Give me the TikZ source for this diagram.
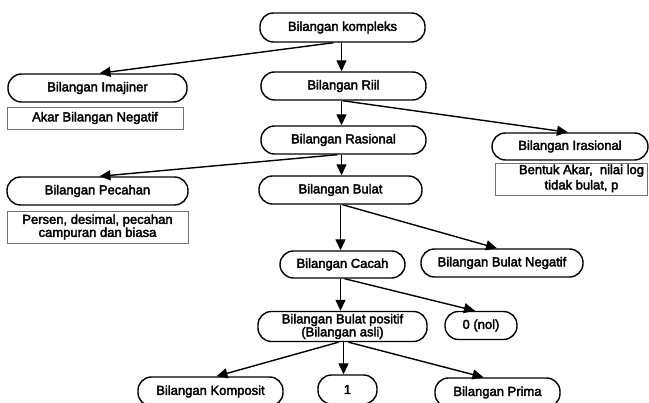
\documentclass[tikz,border=0pt]{standalone}
\usepackage{fontspec}
\setmainfont{Liberation Sans}
\usetikzlibrary{arrows.meta}
\newcommand\heavytext{\special{pdf:literal direct 2 Tr 0.35 w}}
\begin{document}
\begin{tikzpicture}[x=1pt,y=-1pt,
  rbox/.style={draw, line width=1.4pt, rounded corners=13.5pt, minimum height=28pt, inner sep=0pt, align=center, font=\fontsize{13}{13}\selectfont\heavytext},
  notebox/.style={draw=black!55, line width=0.9pt, inner sep=0pt, align=center, font=\fontsize{13}{13}\selectfont\heavytext},
  arr/.style={line width=1.4pt, -{Triangle[length=11pt,width=10pt]}}
]
\useasboundingbox (0,0) rectangle (649,403);
\clip (0,0) rectangle (649,403);

\node[rbox, minimum width=165pt, minimum height=29pt] (komp) at (342.5,27.5) {Bilangan kompleks};
\node[rbox, minimum width=165pt] (riil) at (343.5,86) {Bilangan Riil};
\node[rbox, minimum width=179pt] (imaj) at (97.5,88) {Bilangan Imajiner};
\node[notebox, minimum width=176pt, minimum height=22pt] (akar) at (95,118) {Akar Bilangan Negatif};
\node[rbox, minimum width=156pt, minimum height=27pt] (iras) at (570,146.5) {Bilangan Irasional};
\node[rbox, minimum width=165pt] (rasi) at (343.5,140) {Bilangan Rasional};
\node[notebox, minimum width=152pt, minimum height=32pt] (bentuk) at (571,179) {\hspace*{21pt}\begin{tabular}{@{}c@{}}Bentuk Akar,~ nilai log\\[2pt]tidak bulat, p\end{tabular}};
\node[rbox, minimum width=181pt] (pecah) at (97.5,191) {Bilangan Pecahan};
\node[notebox, minimum width=181pt, minimum height=32pt] (persen) at (97.5,227) {Persen, desimal, pecahan\\campuran dan biasa};
\node[rbox, minimum width=163pt] (bulat) at (340.5,190) {Bilangan Bulat};
\node[rbox, minimum width=125pt, minimum height=27pt] (cacah) at (342.5,264.5) {Bilangan Cacah};
\node[rbox, minimum width=162pt] (bneg) at (502,263) {Bilangan Bulat Negatif};
\node[rbox, minimum width=169pt, minimum height=30pt] (posit) at (342.5,326.5) {Bilangan Bulat positif\\(Bilangan asli)};
\node[rbox, minimum width=72pt] (nol) at (481,325.5) {0 (nol)};
\node[rbox, minimum width=145pt, minimum height=29pt] (kompo) at (210.5,391.5) {Bilangan Komposit};
\node[rbox, minimum width=59pt, minimum height=29pt] (one) at (347.5,389.5) {1};
\node[rbox, minimum width=125pt, minimum height=29pt] (prima) at (497.5,392.5) {Bilangan Prima};

\draw[arr] ([xshift=-1pt]komp.south) -- ([xshift=-1pt]komp.south |- riil.north);
\draw[arr] ([xshift=-9pt]komp.south) -- ([xshift=2pt]imaj.north);
\draw[arr] ([xshift=-2pt]riil.south) -- ([xshift=-2pt]riil.south |- rasi.north);
\draw[arr] ([xshift=-1pt]riil.south) -- ([xshift=-2pt]iras.north);
\draw[arr] ([xshift=-2pt]rasi.south) -- ([xshift=-2pt]rasi.south |- bulat.north);
\draw[arr] ([xshift=-6pt]rasi.south) -- ([xshift=2pt]pecah.north);
\draw[arr] ([xshift=0pt]bulat.south) -- ([xshift=0pt]bulat.south |- cacah.north);
\draw[arr] ([xshift=2pt]bulat.south) -- ([xshift=-5pt]bneg.north);
\draw[arr] ([xshift=-2pt]cacah.south) -- ([xshift=-2pt]cacah.south |- posit.north);
\draw[arr] ([xshift=2pt]cacah.south) -- ([xshift=-6pt]nol.north);
\draw[arr] ([xshift=1pt]posit.south) -- ([xshift=1pt]posit.south |- one.north);
\draw[arr] ([xshift=-4pt]posit.south) -- ([xshift=6pt]kompo.north);
\draw[arr] ([xshift=6pt]posit.south) -- ([xshift=-14pt]prima.north);
\end{tikzpicture}
\end{document}
